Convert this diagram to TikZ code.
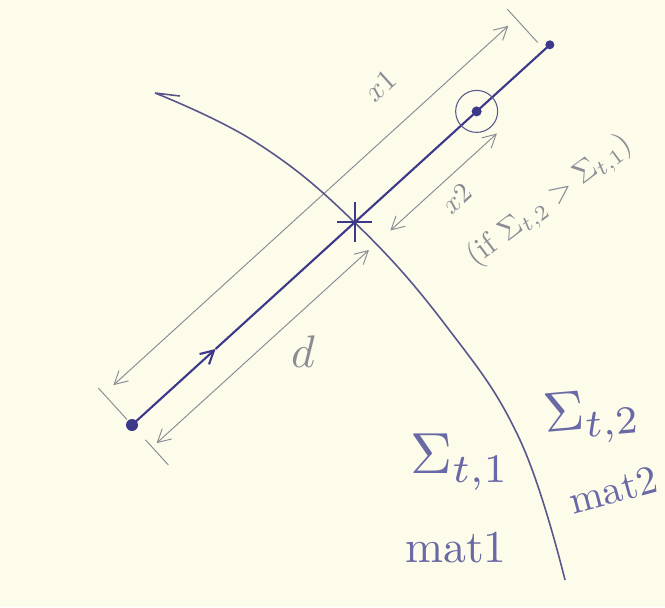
\documentclass[tikz,border=0pt]{standalone}
\usepackage{amsmath}
\usetikzlibrary{arrows.meta}
\definecolor{InkBlue}{RGB}{60, 56, 138}
\definecolor{CurveInk}{RGB}{88, 86, 140}
\definecolor{Pencil}{RGB}{140, 140, 150}
\definecolor{SigmaInk}{RGB}{105, 105, 165}
\definecolor{Paper}{RGB}{253, 252, 234}

\begin{document}
\begin{tikzpicture}[>={Straight Barb[length=2.6mm,width=2.8mm]},
    ink/.style={InkBlue, line width=1.2pt},
    dim/.style={Pencil, line width=0.55pt},
    lbl/.style={Pencil, inner sep=0pt}]
  \fill[Paper] (0,0) rectangle (13.3,-12.14);
  \useasboundingbox (0,0) rectangle (13.3,-12.14);
  \coordinate (start) at (2.64,-8.5);
  % track, dimension lines along it
  \begin{scope}[shift={(start)}, rotate=42.3]
    \coordinate (mid) at (2.26,0);
    \coordinate (star) at (6.02,0);
    \coordinate (hit) at (9.32,0);
    \coordinate (end) at (11.3,0);
    \coordinate (x1a) at (0.26,0.84);
    \coordinate (x1b) at (10.94,0.84);
    \coordinate (da) at (0.12,-0.6);
    \coordinate (db) at (5.86,-0.6);
    \coordinate (x2a) at (6.44,-0.6);
    \coordinate (x2b) at (9.32,-0.6);
    \draw[ink, ->] (start) -- (mid);
    \draw[ink] (mid) -- (end);
    \draw[dim, <->] (x1a) -- (x1b);
    \draw[dim, <->] (da) -- (db);
    \draw[dim, <->] (x2a) -- (x2b);
    \draw[dim] (0,0.15) -- (0,1.0);
    \draw[dim] (11.15,0.2) -- (11.15,1.1);
    \draw[dim] (0,-0.4) -- (0,-1.08);
    \node[lbl, rotate=42.3, scale=1.7] (lx1) at (8.24,1.68) {$x1$};
    \node[lbl, rotate=42.3, scale=1.6] (lx2) at (7.85,-1.02) {$x2$};
  \end{scope}
  \draw[CurveInk, line width=0.9pt] (3.6,-1.92) -- (3.10,-1.86)
    plot[smooth, tension=0.7] coordinates {(3.10,-1.86) (5.14,-2.86) (star)
      (8.94,-6.54) (10.40,-8.80) (11.30,-11.60)};
  \draw[ink] (star) ++(0,0.4) -- ++(0,-0.8);
  \draw[ink] (star) ++(-0.35,0) -- ++(0.7,0);
  \fill[InkBlue] (start) circle (0.12);
  \fill[InkBlue] (end) circle (0.09);
  \fill[InkBlue] (hit) circle (0.1);
  \draw[CurveInk, line width=0.6pt] (hit) circle (0.42);
  \node[lbl, rotate=37, scale=1.75] (lcond) at (11.0,-4.02) {(if $\Sigma_{t,2} > \Sigma_{t,1}$)};
  \node[lbl, scale=2.6] (ld) at (6.06,-7.04) {$d$};
  \node[SigmaInk, scale=3.3] (lsig1) at (9.2,-9.24) {$\Sigma_{t,1}$};
  \node[SigmaInk, scale=2.6] (lmat1) at (9.12,-10.96) {mat1};
  \node[SigmaInk, rotate=5, scale=3.2] (lsig2) at (11.84,-8.34) {$\Sigma_{t,2}$};
  \node[SigmaInk, rotate=15, scale=2.3] (lmat2) at (12.26,-9.8) {mat2};
\end{tikzpicture}
\end{document}
